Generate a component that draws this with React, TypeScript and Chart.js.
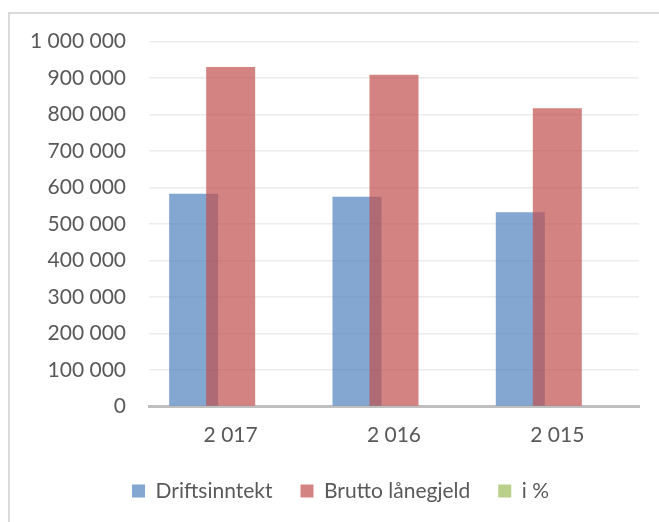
import { useEffect, useRef } from 'react';
import { Chart, registerables } from 'chart.js';

Chart.register(...registerables);

const categories = ['2 017', '2 016', '2 015'];
const driftsinntekt = [583000, 575000, 532000];
const bruttoLanegjeld = [930000, 909000, 817000];
const iProsent = [0, 0, 0];
const seriesNames = ['Driftsinntekt', 'Brutto lånegjeld', 'i %'];
const yMin = 0;
const yMax = 1000000;
const yStep = 100000;

const formatThousands = (v: number) =>
  String(Math.round(v)).replace(/\B(?=(\d{3})+(?!\d))/g, ' ');

const FONT = { family: 'Lato', size: 21 };
const TEXT = '#595959';

export default function App() {
  const ref = useRef<HTMLCanvasElement | null>(null);

  useEffect(() => {
    if (!ref.current) return;
    let redrawing = false;
    const topLayer = {
      id: 'topLayer',
      beforeDatasetDraw(_chart: any, args: any) {
        if (args.index === 1 && !redrawing) return false;
        return true;
      },
      afterDatasetsDraw(chart: any) {
        redrawing = true;
        chart.getDatasetMeta(1).controller.draw();
        redrawing = false;
      },
    };
    const legendShift = {
      id: 'legendShift',
      afterLayout(chart: any) {
        if (chart.legend) chart.legend.left += 23;
      },
    };

    const chart = new Chart(ref.current, {
      type: 'bar',
      data: {
        labels: categories,
        datasets: [
          {
            label: seriesNames[0],
            data: driftsinntekt,
            backgroundColor: 'rgba(79,129,189,0.7)',
            borderWidth: 0,
          },
          {
            label: seriesNames[1],
            data: bruttoLanegjeld,
            backgroundColor: 'rgba(192,80,77,0.7)',
            borderWidth: 0,
          },
          {
            label: seriesNames[2],
            data: iProsent,
            backgroundColor: 'rgba(155,187,89,0.7)',
            borderWidth: 0,
          },
        ],
      },
      options: {
        animation: false,
        responsive: false,
        devicePixelRatio: 1,
        categoryPercentage: 0.68,
        barPercentage: 1.324,
        layout: { padding: { left: 19, right: 20, top: 41.5, bottom: 10.5 } },
        plugins: {
          tooltip: { enabled: false },
          legend: {
            position: 'bottom',
            labels: {
              boxWidth: 13,
              boxHeight: 13,
              padding: 28,
              color: TEXT,
              font: FONT,
            },
          },
        },
        scales: {
          x: {
            z: 1,
            grid: { display: false, drawTicks: false },
            border: { display: true, color: '#bfbfbf', width: 3 },
            ticks: { color: TEXT, font: FONT, padding: 16 },
            afterFit: (s: any) => {
              s.height = 46;
            },
          },
          y: {
            min: yMin,
            max: yMax,
            grid: { color: '#ececec', lineWidth: 1.5, drawTicks: false },
            border: { display: false },
            ticks: {
              stepSize: yStep,
              color: TEXT,
              font: FONT,
              padding: 23,
              callback: (v: any) => formatThousands(Number(v)),
            },
            afterFit: (s: any) => {
              s.width = 130;
            },
          },
        },
      },
      plugins: [topLayer, legendShift],
    });
    return () => chart.destroy();
  }, []);

  return (
    <div
      style={{
        position: 'fixed',
        left: 0,
        top: 0,
        width: 659,
        height: 522,
        overflow: 'hidden',
        background: '#fff',
      }}
    >
      <div
        style={{
          position: 'absolute',
          left: 8,
          top: 12,
          width: 800,
          height: 800,
          borderLeft: '2px solid #dadada',
          borderTop: '2px solid #dadada',
        }}
      />
      <canvas
        ref={ref}
        width={659}
        height={522}
        style={{ position: 'absolute', left: 0, top: 0, width: 659, height: 522 }}
      />
    </div>
  );
}
